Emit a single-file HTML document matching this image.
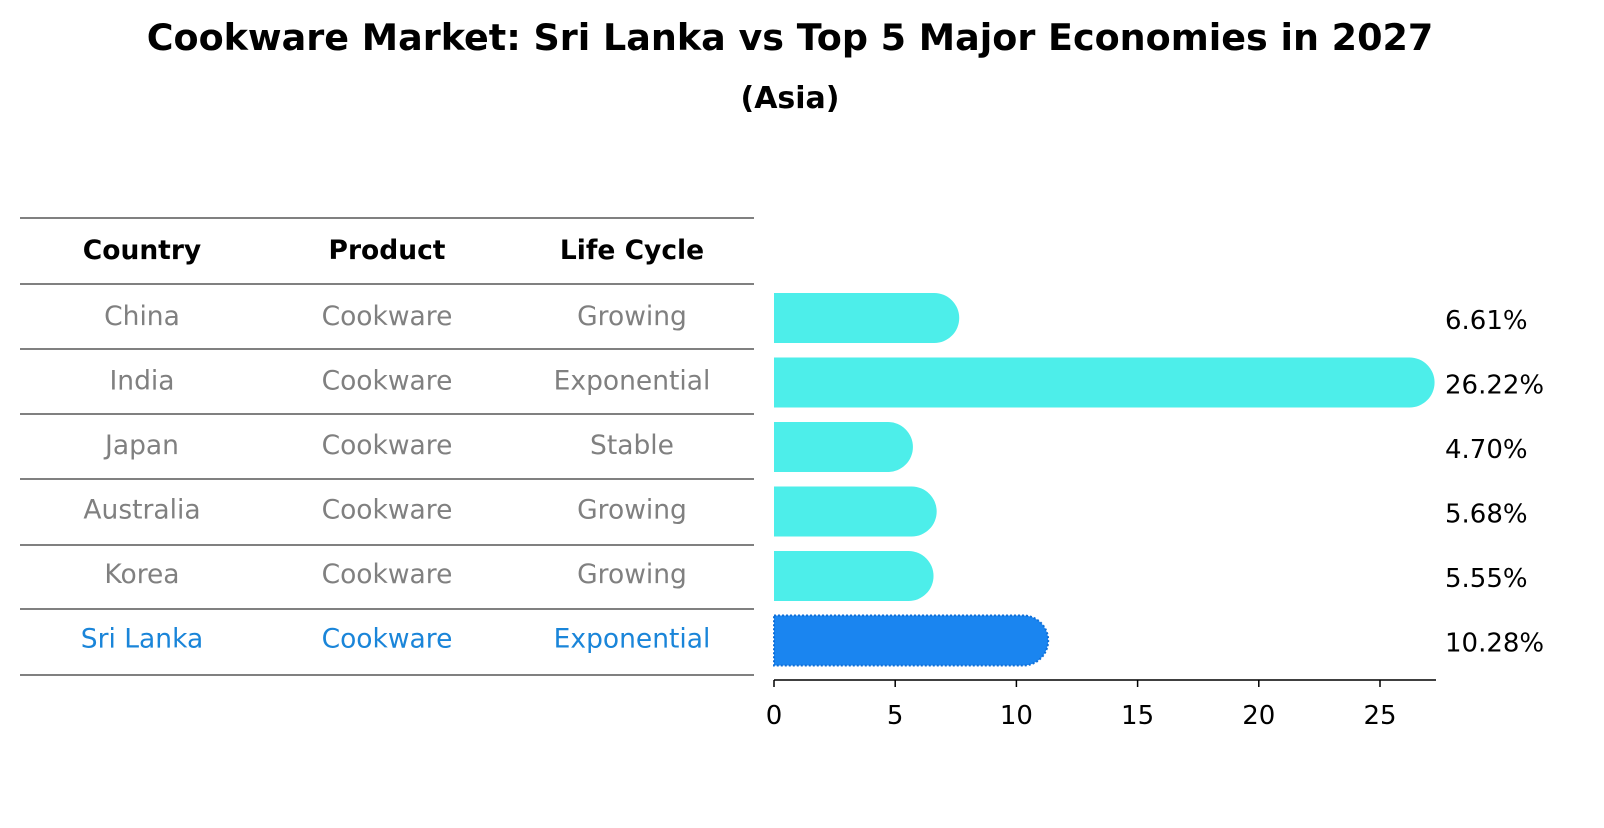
<!DOCTYPE html>
<html><head><meta charset="utf-8"><style>
body{margin:0;background:#fff;font-family:"Liberation Sans","DejaVu Sans",sans-serif;}
</style></head><body>
<svg width="1604" height="823" xmlns="http://www.w3.org/2000/svg" style="font-family:'DejaVu Sans','Liberation Sans',sans-serif">
<text x="790" y="50" text-anchor="middle" font-size="36.5" font-weight="bold">Cookware Market: Sri Lanka vs Top 5 Major Economies in 2027</text>
<text x="790" y="108" text-anchor="middle" font-size="30" font-weight="bold">(Asia)</text>
<g id="table"></g>
<g id="bars"></g>
</svg>
<script>
const countries=["China","India","Japan","Australia","Korea","Sri Lanka"];
const products=["Cookware","Cookware","Cookware","Cookware","Cookware","Cookware"];
const lifeCycles=["Growing","Exponential","Stable","Growing","Growing","Exponential"];
const values=[6.61,26.22,4.70,5.68,5.55,10.28];
const ticks=[0,5,10,15,20,25];
const NS="http://www.w3.org/2000/svg";
function mk(tag,attrs,parent,txt){const e=document.createElementNS(NS,tag);for(const k in attrs)e.setAttribute(k,attrs[k]);if(txt!==undefined)e.textContent=txt;parent.appendChild(e);return e;}
const tbl=document.getElementById('table'),bars=document.getElementById('bars');
const x0=774,sx=24.24;
const xs=v=>x0+v*sx;
const rowY=i=>316+i*64.5;
const lineYs=[218,284,349,414,479,545,609,675];
lineYs.forEach(y=>{const l=mk('line',{x1:20,x2:754,y1:y,y2:y,stroke:'#000','stroke-width':1},tbl);

});
const cx=[142,387,632];
["Country","Product","Life Cycle"].forEach((h,j)=>{const t=mk('text',{x:cx[j],y:259,'text-anchor':'middle','font-size':26.5,'font-weight':'bold'},tbl,h);

});
countries.forEach((c,i)=>{
 const col=i===countries.length-1?'#1a85d9':'#808080';
 [c,products[i],lifeCycles[i]].forEach((v,j)=>{const t=mk('text',{x:cx[j],y:rowY(i)+9,'text-anchor':'middle','font-size':26.5,fill:col},tbl,v);
 
 });
 const w=xs(values[i])-x0, h=50, y=rowY(i)+2-h/2;
 const isHL=i===countries.length-1;
 const p=mk('path',{d:`M${x0},${y}H${x0+w}A25,25 0 0 1 ${x0+w},${y+h}H${x0}Z`,fill:isHL?'#1a85f0':'#4deeea',stroke:isHL?'#0f6fd8':'none','stroke-dasharray':isHL?'2,2':'', 'stroke-width':2},bars);
 
 
 const t=mk('text',{x:1445,y:rowY(i)+13,'font-size':26},bars,values[i].toFixed(2)+'%');
 
 
});
const ax=mk('line',{x1:x0,x2:1436,y1:680,y2:680,stroke:'#000','stroke-width':1.5},bars);


ticks.forEach(v=>{const l=mk('line',{x1:xs(v),x2:xs(v),y1:680,y2:687,stroke:'#000','stroke-width':1.5},bars);


const t=mk('text',{x:xs(v),y:724,'text-anchor':'middle','font-size':26},bars,String(v));

});
</script>
</body></html>
